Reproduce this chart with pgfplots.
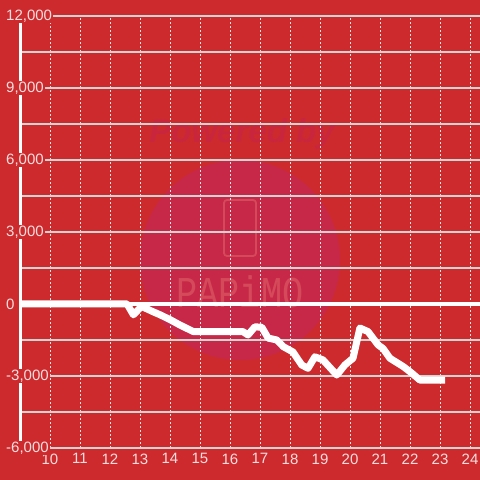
\documentclass[border=0pt]{standalone}
\usepackage{pgfplots}
\pgfplotsset{compat=1.18}
\usepackage{fontspec}
\setmainfont{Liberation Sans}
\newfontfamily\monofont{Liberation Mono}
\definecolor{bgred}{RGB}{205,42,46}
\definecolor{wm}{RGB}{200,40,72}
\definecolor{wmtext}{RGB}{212,74,90}
\definecolor{wmpow}{RGB}{201,38,62}
\definecolor{lbl}{RGB}{246,222,222}
\definecolor{hgrid}{RGB}{212,212,212}
\definecolor{vgrid}{RGB}{236,226,226}
\begin{document}
\begin{tikzpicture}[x=1pt,y=1pt]
\useasboundingbox (0,0) rectangle (480,480);
\fill[bgred] (0,0) rectangle (480,480);
% watermark
\fill[wm] (240,220) circle[radius=100];
\node[text=wmpow, font=\fontsize{33}{36}\selectfont\bfseries\itshape] at (242,346) {Powered by};
\draw[wmtext, line width=1.8pt, rounded corners=3pt] (224,224) rectangle (256,280);
\node[text=wmtext, xscale=0.8, font=\fontsize{44}{48}\selectfont\monofont] at (240,188) {PAPiMO};
\begin{axis}[
  at={(20pt,32pt)}, anchor=south west,
  scale only axis, width=460pt, height=432pt,
  xmin=9, xmax=24.3333, ymin=-6000, ymax=12000,
  xtick={10,...,24}, ytick={-6000,-3000,...,12000},
  minor ytick={-4500,-1500,...,10500},
  ymajorgrids, yminorgrids, xmajorgrids,
  y grid style={hgrid, line width=1.1pt},
  minor grid style={hgrid, line width=1.1pt},
  x grid style={vgrid, line width=1pt, dash pattern=on 2pt off 2pt},
  axis lines*=left, axis line style={-},
  x axis line style={draw=none},
  y axis line style={white, line width=3pt},
  major tick length=0, minor tick length=0,
  tick label style={font=\fontsize{15}{18}\selectfont, text=lbl},
  /pgf/number format/assume math mode=true,
  /pgf/number format/1000 sep={,},
  scaled y ticks=false,
  yticklabel style={anchor=west, xshift=-15pt, fill=bgred, inner sep=1pt},
  xticklabel style={yshift=-2pt},
]
\addplot[white, line width=4pt, forget plot] coordinates {(9,0) (24.4,0)};
\addplot[white, line width=7pt, line join=round] coordinates {
(9,0) (12.57,0) (12.78,-450) (13.05,-100) (13.43,-320) (13.67,-450) (14.0,-650)
(14.33,-875) (14.78,-1150) (16.43,-1150) (16.6,-1290) (16.83,-950) (17.06,-970)
(17.27,-1420) (17.56,-1500) (17.78,-1780) (18.1,-2000) (18.39,-2540) (18.6,-2680)
(18.83,-2200) (19.1,-2330) (19.56,-2960) (19.83,-2540) (20.1,-2260) (20.33,-1000)
(20.6,-1150) (20.94,-1710) (21.1,-1850) (21.33,-2260) (21.78,-2610) (22.06,-2880)
(22.33,-3170) (23.17,-3170)
};
\end{axis}
\end{tikzpicture}
\end{document}
